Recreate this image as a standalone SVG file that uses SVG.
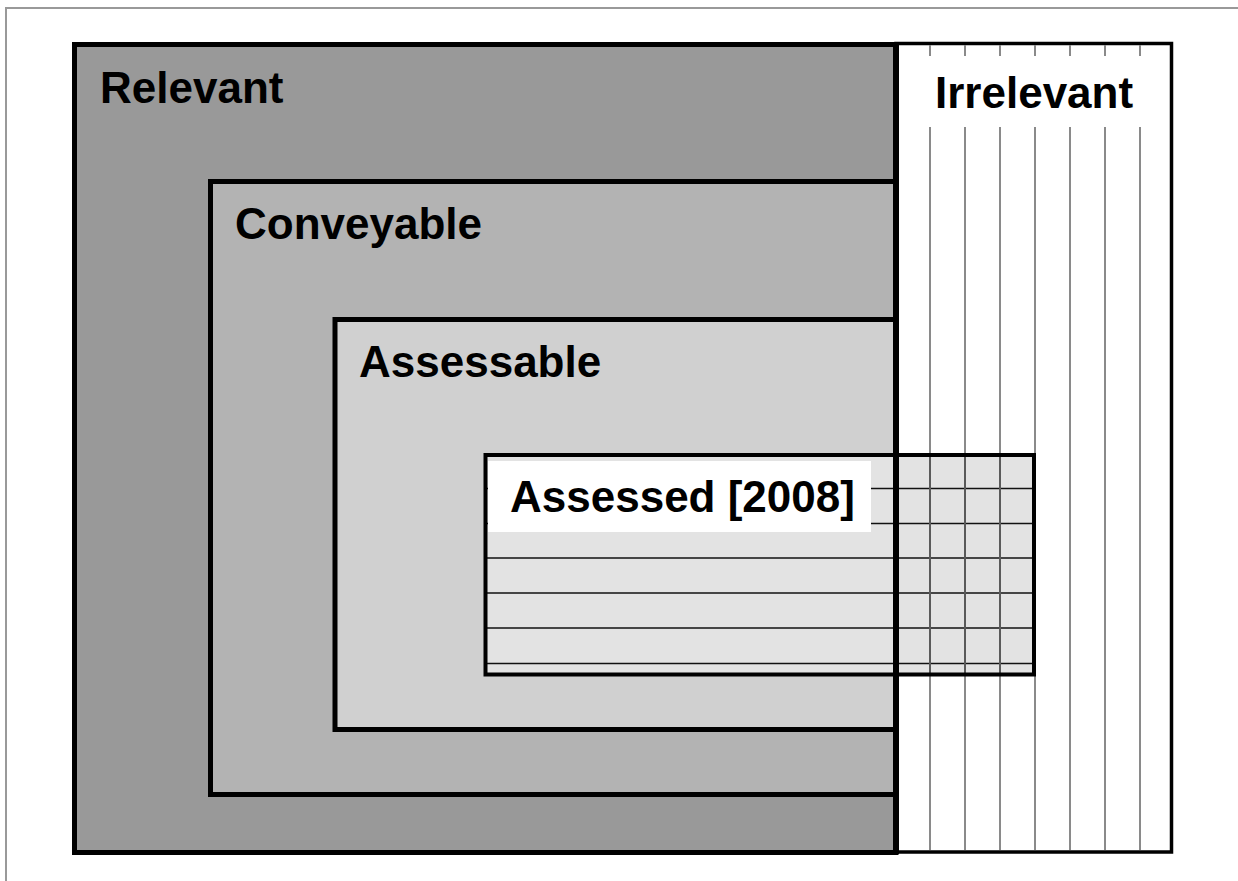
<svg xmlns="http://www.w3.org/2000/svg" width="1238" height="881" viewBox="0 0 1238 881">
  <style>
    .box { stroke: #000; stroke-width: 5; }
    .lbl { font-family: "Liberation Sans", Arial, sans-serif; font-weight: bold; font-size: 44px; fill: #000; }
    .vline { stroke: #8a8a8a; stroke-width: 2; }
    .vline-dark { stroke: #5a5a5a; stroke-width: 2; }
    .hline { stroke: #111; stroke-width: 1.5; }
  </style>

  <!-- page background and frame -->
  <rect x="0" y="0" width="1238" height="881" fill="#ffffff"/>
  <path d="M6,881 V8 H1238" fill="none" stroke="#999999" stroke-width="2"/>

  <!-- nested categories -->
  <g id="relevant">
    <rect class="box" x="74.5" y="44.5" width="821.5" height="808" fill="#999999"/>
    <text class="lbl" x="100" y="103">Relevant</text>
  </g>
  <g id="conveyable">
    <rect class="box" x="210.5" y="181.5" width="685.5" height="613" fill="#b3b3b3"/>
    <text class="lbl" x="235" y="239">Conveyable</text>
  </g>
  <g id="assessable">
    <rect class="box" x="335" y="319.5" width="561" height="410" fill="#d0d0d0"/>
    <text class="lbl" x="359" y="377">Assessable</text>
  </g>

  <!-- irrelevant region with vertical hatching -->
  <g id="irrelevant">
    <rect x="896" y="43.5" width="275.5" height="808.5" fill="#ffffff" stroke="#000" stroke-width="3.5"/>
    <g class="vline">
      <line x1="930" y1="45" x2="930" y2="850"/>
      <line x1="965" y1="45" x2="965" y2="850"/>
      <line x1="1000" y1="45" x2="1000" y2="850"/>
      <line x1="1035" y1="45" x2="1035" y2="850"/>
      <line x1="1070" y1="45" x2="1070" y2="850"/>
      <line x1="1105" y1="45" x2="1105" y2="850"/>
      <line x1="1140" y1="45" x2="1140" y2="850"/>
    </g>
    <rect x="915" y="56" width="240" height="71" fill="#ffffff"/>
    <text class="lbl" x="935" y="108">Irrelevant</text>
  </g>

  <!-- assessed region with horizontal hatching -->
  <g id="assessed">
    <rect x="485.5" y="455" width="548.5" height="219.5" fill="#e3e3e3"/>
    <g class="hline">
      <line x1="486" y1="488.5" x2="1034" y2="488.5"/>
      <line x1="486" y1="523.5" x2="1034" y2="523.5"/>
      <line x1="486" y1="558" x2="1034" y2="558"/>
      <line x1="486" y1="593" x2="1034" y2="593"/>
      <line x1="486" y1="628" x2="1034" y2="628"/>
      <line x1="486" y1="663.5" x2="1034" y2="663.5"/>
    </g>
    <g class="vline-dark">
      <line x1="930" y1="456" x2="930" y2="673"/>
      <line x1="965" y1="456" x2="965" y2="673"/>
      <line x1="1000" y1="456" x2="1000" y2="673"/>
    </g>
    <rect x="488" y="461" width="383" height="71" fill="#ffffff"/>
    <rect x="485.5" y="455" width="548.5" height="219.5" fill="none" stroke="#000" stroke-width="4"/>
    <text class="lbl" x="510" y="512">Assessed [2008]</text>
  </g>

  <!-- boundary between relevant and irrelevant -->
  <line x1="896" y1="42" x2="896" y2="854" stroke="#000" stroke-width="6"/>
</svg>
